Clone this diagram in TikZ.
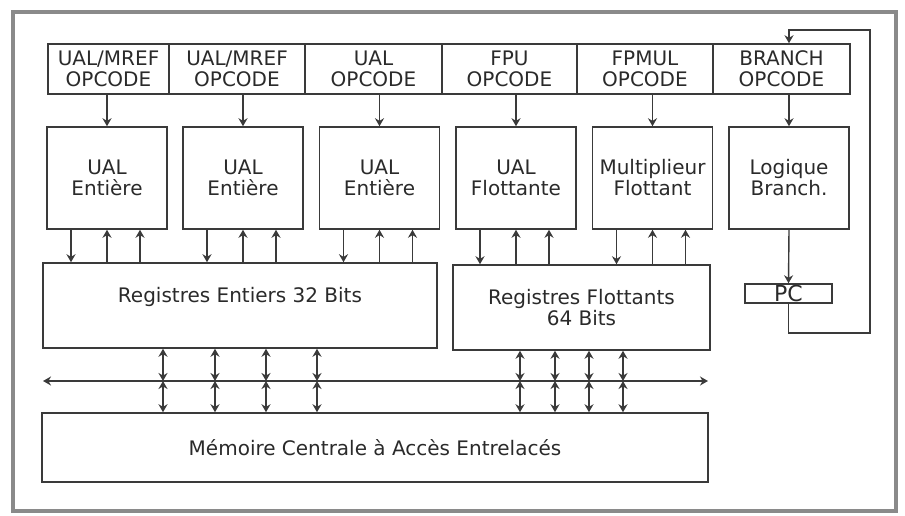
\documentclass[tikz,border=0pt]{standalone}
\usepackage{fontspec}
\setmainfont{DejaVu Sans}
\usetikzlibrary{arrows.meta,calc}
\definecolor{ink}{HTML}{3A3A3A}
\definecolor{inktext}{HTML}{2A2A2A}
\definecolor{framegray}{HTML}{8A8A8A}
\tikzset{
  unitbox/.style={draw=ink,line width=1.5pt,align=center,inner sep=0pt,
                  font=\fontsize{20}{21}\selectfont,text=inktext},
  opcell/.style={unitbox,minimum height=50pt},
  fuunit/.style={unitbox,minimum width=120pt,minimum height=102pt},
  regbox/.style={unitbox,minimum height=85pt},
  arr/.style={-{Stealth[length=8pt,width=9pt]},line width=1.4pt,draw=ink},
  dblarr/.style={{Stealth[length=8pt,width=9pt]}-{Stealth[length=8pt,width=9pt]},
                 line width=1.4pt,draw=ink}
}
\begin{document}
\begin{tikzpicture}[x=1pt,y=-1pt]
    \path[use as bounding box] (0,0) rectangle (905,516);
    \draw[framegray,line width=4pt] (13,12) rectangle (896,511);
    % opcode fields of the instruction word
    \node[opcell,minimum width=121pt] (op1) at (108.5,69) {UAL/MREF\\OPCODE};
    \node[opcell,minimum width=136pt] (op2) at (237,69) {UAL/MREF\\OPCODE};
    \node[opcell,minimum width=137pt] (op3) at (373.5,69) {UAL\\OPCODE};
    \node[opcell,minimum width=135pt] (op4) at (509.5,69) {FPU\\OPCODE};
    \node[opcell,minimum width=136pt] (op5) at (645,69) {FPMUL\\OPCODE};
    \node[opcell,minimum width=137pt] (op6) at (781.5,69) {BRANCH\\OPCODE};
    % functional units
    \node[fuunit] (u1) at (107,178) {UAL\\Entière};
    \node[fuunit] (u2) at (243,178) {UAL\\Entière};
    \node[fuunit] (u3) at (379.5,178) {UAL\\Entière};
    \node[fuunit] (u4) at (516,178) {UAL\\Flottante};
    \node[fuunit] (u5) at (652.5,178) {Multiplieur\\Flottant};
    \node[fuunit] (u6) at (789,178) {Logique\\Branch.};
    \foreach \i in {1,...,6}
      \draw[arr] (u\i.north |- op\i.south) -- (u\i.north);
    % register files and memory
    \node[regbox,minimum width=394pt] (ri) at (240,305.5)
      {Registres Entiers 32 Bits\\\mbox{}};
    \node[regbox,minimum width=257pt] (rf) at (581.5,307.5)
      {Registres Flottants\\64 Bits};
    \node[unitbox,minimum width=666pt,minimum height=69pt] (mem) at (375,447.5)
      {Mémoire Centrale à Accès Entrelacés};
    \node[draw=ink,line width=1.5pt,minimum width=87pt,minimum height=19pt,
          inner sep=0pt,font=\fontsize{22}{22}\selectfont,text=inktext] (pc) at (788.5,293.5) {PC};
    % one result port and two operand ports per unit
    \foreach \u/\r in {u1/ri,u2/ri,u3/ri,u4/rf,u5/rf} {
      \coordinate (pa) at ($(\u.south)+(-36,0)$);
      \coordinate (pb) at (\u.south);
      \coordinate (pd) at ($(\u.south)+(33,0)$);
      \draw[arr] (pa) -- (pa |- \r.north);
      \draw[arr] (pb |- \r.north) -- (pb);
      \draw[arr] (pd |- \r.north) -- (pd);
    }
    % memory bus
    \coordinate (busw) at (43,381);
    \coordinate (buse) at (708,381);
    \draw[dblarr] (busw) -- (buse);
    \foreach \x/\r in {163/ri,215/ri,266/ri,317/ri,520/rf,555/rf,589/rf,623/rf} {
      \coordinate (bx) at (\x,0);
      \draw[dblarr] (bx |- \r.south) -- (bx |- busw);
      \draw[dblarr] (bx |- busw) -- (bx |- mem.north);
    }
    % branch path back to the instruction word
    \draw[arr] (u6.south) -- (pc.north);
    \coordinate (loopbr) at (870,333);
    \coordinate (looptr) at (870,30);
    \draw[arr] (pc.south) |- (loopbr) -- (looptr) -| (op6.north -| u6.north);
\end{tikzpicture}
\end{document}
